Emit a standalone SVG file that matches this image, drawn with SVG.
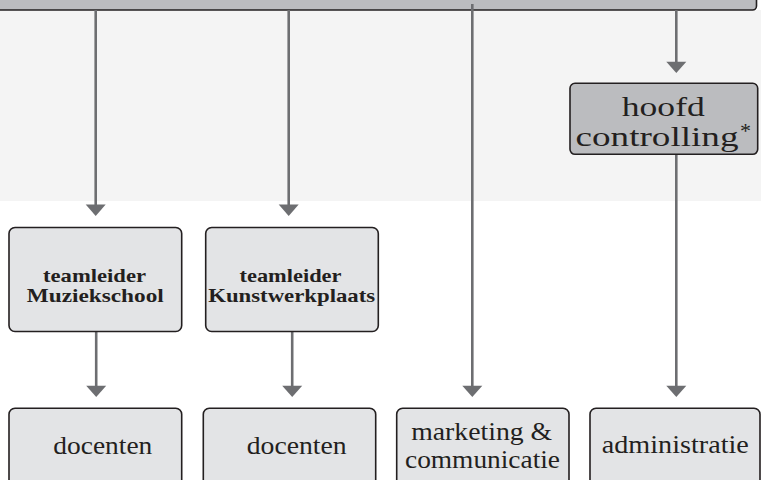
<svg xmlns="http://www.w3.org/2000/svg" width="761" height="480" viewBox="0 0 761 480">
<style>
.box{stroke:#231f20;stroke-width:1.6}
.light{fill:#e3e4e6}
.dark{fill:#bbbcbf}
.line{stroke:#6d6e71;stroke-width:2.6;fill:none}
.head{fill:#6d6e71}
text{font-family:'Liberation Serif','DejaVu Serif',serif;fill:#231f20;text-anchor:middle}
.b{font-weight:bold;font-size:19.5px}
.r{font-size:26px}
.big{font-size:28px}
</style>
<rect x="0" y="10" width="761" height="191" fill="#f4f4f4"/>
<g id="top-bar">
<rect class="box dark" x="-10" y="-20" width="766.5" height="30" rx="4"/>
</g>
<g id="connectors">
<line class="line" x1="95.7" y1="10" x2="95.7" y2="206"/>
<polygon class="head" points="85.7,204.5 105.7,204.5 95.7,216"/>
<line class="line" x1="288.7" y1="10" x2="288.7" y2="206"/>
<polygon class="head" points="278.7,204.5 298.7,204.5 288.7,216"/>
<line class="line" x1="472.3" y1="4" x2="472.3" y2="387"/>
<polygon class="head" points="462.3,385.7 482.3,385.7 472.3,397"/>
<line class="line" x1="676.3" y1="10" x2="676.3" y2="63"/>
<polygon class="head" points="666.3,61.7 686.3,61.7 676.3,73"/>
<line class="line" x1="676.3" y1="154" x2="676.3" y2="387"/>
<polygon class="head" points="666.3,385.7 686.3,385.7 676.3,397"/>
<line class="line" x1="96.2" y1="332" x2="96.2" y2="387"/>
<polygon class="head" points="86.2,385.7 106.2,385.7 96.2,397"/>
<line class="line" x1="292.2" y1="332" x2="292.2" y2="387"/>
<polygon class="head" points="282.2,385.7 302.2,385.7 292.2,397"/>
</g>
<g id="hoofd-controlling">
<rect class="box dark" x="570" y="83.3" width="187.7" height="71" rx="5"/>
<text class="big" font-family="Liberation Serif, serif" x="663.3" y="116" textLength="83" lengthAdjust="spacingAndGlyphs">hoofd</text>
<text class="big" font-family="Liberation Serif, serif" x="657" y="145.5" textLength="163" lengthAdjust="spacingAndGlyphs">controlling</text>
<text font-family="Liberation Serif, serif" x="745.5" y="138" font-size="22">*</text>
</g>
<g id="teamleider-muziekschool">
<rect class="box light" x="9" y="227.5" width="172.7" height="104" rx="6"/>
<text class="b" font-family="Liberation Serif, serif" x="94.5" y="281.7" textLength="103" lengthAdjust="spacingAndGlyphs">teamleider</text>
<text class="b" font-family="Liberation Serif, serif" x="95.3" y="301.7" textLength="137" lengthAdjust="spacingAndGlyphs">Muziekschool</text>
</g>
<g id="teamleider-kunstwerkplaats">
<rect class="box light" x="205.7" y="227.5" width="172.6" height="104" rx="6"/>
<text class="b" font-family="Liberation Serif, serif" x="290.5" y="281.7" textLength="102" lengthAdjust="spacingAndGlyphs">teamleider</text>
<text class="b" font-family="Liberation Serif, serif" x="291.7" y="301.7" textLength="167" lengthAdjust="spacingAndGlyphs">Kunstwerkplaats</text>
</g>
<g id="docenten-1">
<rect class="box light" x="9" y="408.3" width="172.7" height="90" rx="6"/>
<text class="r" font-family="Liberation Serif, serif" x="102.8" y="454.3" textLength="99" lengthAdjust="spacingAndGlyphs">docenten</text>
</g>
<g id="docenten-2">
<rect class="box light" x="203.3" y="408.3" width="172.4" height="90" rx="6"/>
<text class="r" font-family="Liberation Serif, serif" x="296.7" y="454.3" textLength="100" lengthAdjust="spacingAndGlyphs">docenten</text>
</g>
<g id="marketing-communicatie">
<rect class="box light" x="396.7" y="408.3" width="172.3" height="90" rx="6"/>
<text class="r" font-family="Liberation Serif, serif" x="481.7" y="440" textLength="141" lengthAdjust="spacingAndGlyphs">marketing &amp;</text>
<text class="r" font-family="Liberation Serif, serif" x="482.5" y="468.3" textLength="155" lengthAdjust="spacingAndGlyphs">communicatie</text>
</g>
<g id="administratie">
<rect class="box light" x="590" y="408.3" width="170" height="90" rx="6"/>
<text class="r" font-family="Liberation Serif, serif" x="675.3" y="453.3" textLength="147" lengthAdjust="spacingAndGlyphs">administratie</text>
</g>
</svg>
